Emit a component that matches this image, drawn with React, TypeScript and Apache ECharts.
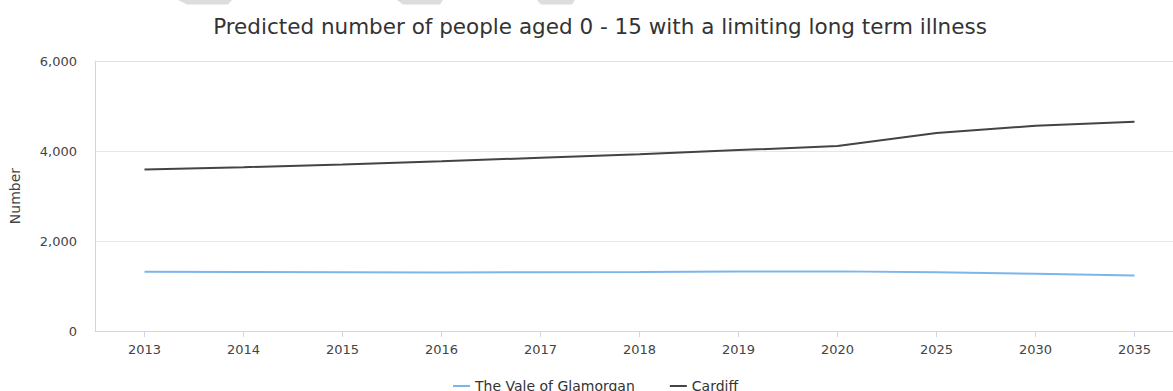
import React, { useEffect, useRef } from "react";
import * as echarts from "echarts";

const titleText = "Predicted number of people aged 0 - 15 with a limiting long term illness";
const years = ["2013", "2014", "2015", "2016", "2017", "2018", "2019", "2020", "2025", "2030", "2035"];
const valeName = "The Vale of Glamorgan";
const valeValues = [1315, 1310, 1305, 1300, 1305, 1310, 1320, 1325, 1305, 1270, 1235];
const cardiffName = "Cardiff";
const cardiffValues = [3590, 3640, 3700, 3770, 3850, 3930, 4020, 4110, 4400, 4560, 4650];
const yAxisName = "Number";

const FONT = "DejaVu Sans, Verdana, sans-serif";

export default function App() {
  const ref = useRef<HTMLDivElement>(null);
  useEffect(() => {
    if (!ref.current) return;
    const chart = echarts.init(ref.current, undefined, { renderer: "svg" });
    const wm = (pts: number[][]) => ({
      type: "polygon",
      shape: { points: pts },
      style: { fill: "#dddddd" },
      silent: true,
    });
    chart.setOption({
      animation: false,
      backgroundColor: "#ffffff",
      textStyle: { fontFamily: FONT },
      title: {
        text: titleText,
        left: 595,
        textAlign: "center",
        top: 10,
        textStyle: { fontFamily: FONT, fontSize: 21.5, fontWeight: "normal", color: "#333333" },
      },
      graphic: [
        wm([[178, 0], [232, 0], [228, 4.5], [187, 4.5]]),
        wm([[397, 0], [443, 0], [440, 4.5], [403, 4.5]]),
        wm([[537, 0], [575, 0], [572, 4.5], [541, 4.5]]),
      ],
      legend: {
        left: 453,
        top: 379,
        padding: 0,
        icon: "rect",
        itemWidth: 17,
        itemHeight: 2,
        itemGap: 35,
        textStyle: { fontFamily: FONT, fontSize: 14, color: "#333333" },
        data: [valeName, cardiffName],
      },
      grid: { left: 91, right: 0, top: 61, bottom: 60, containLabel: false },
      xAxis: [
        {
          type: "category",
          data: years,
          boundaryGap: true,
          axisLine: { show: true, lineStyle: { color: "#ccd6eb", width: 1 } },
          axisTick: { show: true, alignWithLabel: true, length: 6, lineStyle: { color: "#ccd6eb" } },
          axisLabel: { fontFamily: FONT, fontSize: 13, color: "#444444", margin: 12 },
          splitLine: { show: false },
        },
        {
          type: "category",
          data: years,
          position: "top",
          axisLine: { show: true, lineStyle: { color: "#d8e0ee", width: 1 } },
          axisTick: { show: false },
          axisLabel: { show: false },
        },
      ],
      yAxis: {
        type: "value",
        min: 0,
        max: 6000,
        interval: 2000,
        name: yAxisName,
        nameLocation: "middle",
        nameGap: 73,
        nameRotate: 90,
        nameTextStyle: { fontFamily: FONT, fontSize: 14, color: "#444444" },
        axisLine: { show: true, lineStyle: { color: "#ccd6eb", width: 1 } },
        axisTick: { show: false },
        axisLabel: {
          fontFamily: FONT,
          fontSize: 13,
          color: "#444444",
          margin: 18,
          formatter: (v: number) => v.toLocaleString("en-US"),
        },
        splitLine: { show: true, lineStyle: { color: "#e6e6e6", width: 1 } },
      },
      series: [
        {
          name: valeName,
          type: "line",
          data: valeValues,
          symbol: "none",
          lineStyle: { color: "#7cb5ec", width: 2 },
          itemStyle: { color: "#7cb5ec" },
        },
        {
          name: cardiffName,
          type: "line",
          data: cardiffValues,
          symbol: "none",
          lineStyle: { color: "#434348", width: 2 },
          itemStyle: { color: "#434348" },
        },
      ],
    });
    return () => chart.dispose();
  }, []);
  return (
    <div style={{ position: "fixed", left: 0, top: 0, width: 1173, height: 391, overflow: "hidden", background: "#fff" }}>
      <div ref={ref} style={{ width: 1184, height: 391 }} />
    </div>
  );
}
